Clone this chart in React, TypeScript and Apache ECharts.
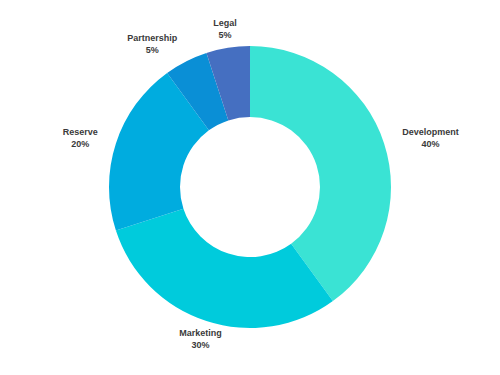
import React, { useEffect, useRef } from "react";
import * as echarts from "echarts";

const categories = ["Development", "Marketing", "Reserve", "Partnership", "Legal"];
const values = [40, 30, 20, 5, 5];
const colors = ["#3ae3d4", "#00cbdc", "#00acdf", "#0a8fd6", "#456fc1"];

export default function App() {
  const ref = useRef<HTMLDivElement>(null);
  useEffect(() => {
    document.body.style.margin = "0";
    const chart = echarts.init(ref.current!, undefined, { renderer: "svg" });
    const total = values.reduce((a, b) => a + b, 0);
    const cx = 250;
    const cy = 187;
    const labelR = 160;
    const mids: number[] = [];
    let acc = 0;
    values.forEach((v) => {
      mids.push(((acc + v / 2) / total) * Math.PI * 2);
      acc += v;
    });
    chart.setOption({
      animation: false,
      color: colors,
      series: [
        {
          type: "pie",
          center: [cx, cy],
          radius: [70, 141],
          startAngle: 90,
          clockwise: true,
          data: categories.map((c, i) => ({ name: c, value: values[i] })),
          label: {
            show: true,
            position: "outside",
            formatter: (p: any) => `${p.name}\n${Math.round(p.percent)}%`,
            fontFamily: "Liberation Sans, Arial, sans-serif",
            fontWeight: "bold",
            fontSize: 9,
            lineHeight: 12,
            color: "#3a3a3a",
          },
          labelLine: { show: false },
          labelLayout: (params: any) => {
            const a = mids[params.dataIndex];
            const dx = Math.sin(a);
            const dy = -Math.cos(a);
            const ax = cx + dx * labelR;
            const ay = cy + dy * labelR;
            const w = params.labelRect.width;
            let x = ax;
            if (Math.abs(dx) > 0.4) x = ax + (dx > 0 ? w / 2 : -w / 2);
            return { x, y: ay, align: "center", verticalAlign: "middle" };
          },
          emphasis: { disabled: true },
        },
      ],
    });
    return () => chart.dispose();
  }, []);
  return <div ref={ref} style={{ width: 500, height: 375 }} />;
}
